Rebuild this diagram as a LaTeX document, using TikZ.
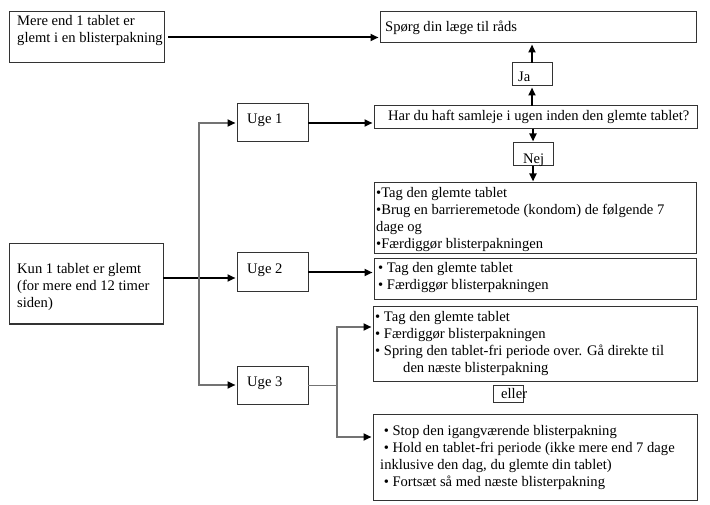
\documentclass[tikz,border=0pt]{standalone}
\usepackage{fontspec}
\setmainfont{Liberation Serif}
\usetikzlibrary{arrows.meta}
\begin{document}
\begin{tikzpicture}[x=1pt,y=-1pt,
  box/.style={draw=black!80, line width=1pt, anchor=north west, inner sep=0pt, outer sep=0pt},
  txt/.style={anchor=north west, inner sep=0pt, align=left, font=\fontsize{14.6}{17}\selectfont},
  arr/.style={line width=2pt, -{Triangle[length=8pt,width=7pt,color=black]}, shorten >=1.5pt},
  grayarr/.style={arr, draw=black!55},
  thinln/.style={line width=1pt, draw=black!55}]
\useasboundingbox[fill=white] (0,0) rectangle (710,505);

% boxes
\node[box, minimum width=155pt, minimum height=51pt] (b1) at (9,12) {};
\node[box, minimum width=316pt, minimum height=31pt] (spoerg) at (380,12) {};
\node[box, minimum width=40pt, minimum height=23pt] (ja) at (512,63) {};
\node[box, minimum width=323pt, minimum height=23pt] (q) at (374,106) {};
\node[box, minimum width=40pt, minimum height=23pt] (nej) at (513,143) {};
\node[box, minimum width=322pt, minimum height=71pt] (w1) at (374,183) {};
\node[box, minimum width=322pt, minimum height=41pt] (w2) at (374,259) {};
\node[box, minimum width=154pt, minimum height=80pt] (kun) at (9,244) {};
\node[box, minimum width=71pt, minimum height=38pt] (uge1) at (237,104) {};
\node[box, minimum width=71pt, minimum height=39pt] (uge2) at (237,253) {};
\node[box, minimum width=71pt, minimum height=38pt] (uge3) at (237,366) {};
\node[box, minimum width=324pt, minimum height=74pt] (w3a) at (373,307) {};
\node[box, minimum width=30pt, minimum height=17pt] (eller) at (493,385) {};
\node[box, minimum width=324pt, minimum height=86pt] (w3b) at (373,414) {};

% texts
\node[txt] (tb1) at (17,15) {Mere end 1 tablet er\\glemt i en blisterpakning};
\node[txt] (tsp) at (385,20.5) {Spørg din læge til råds};
\node[txt] (tja) at (518,72) {Ja};
\node[txt] (tq) at (388,110.5) {Har du haft samleje i ugen inden den glemte tablet?};
\node[txt] (tnej) at (523,153.5) {Nej};
\node[txt] (tw1) at (376,187) {•Tag den glemte tablet\\•Brug en barrieremetode (kondom) de følgende 7\\dage og\\•Færdiggør blisterpakningen};
\node[txt] (tw2) at (378,262) {• Tag den glemte tablet\\• Færdiggør blisterpakningen};
\node[txt] (tkun) at (17,263) {Kun 1 tablet er glemt\\(for mere end 12 timer\\siden)};
\node[txt] (tu1) at (247,114) {Uge 1};
\node[txt] (tu2) at (247,263.5) {Uge 2};
\node[txt] (tu3) at (247,376.5) {Uge 3};
\node[txt] (tw3a) at (375,311) {• Tag den glemte tablet\\• Færdiggør blisterpakningen\\• Spring den tablet-fri periode over. Gå direkte til\\\hspace*{28pt}den næste blisterpakning};
\node[txt] (tel) at (501,388) {eller};
\node[txt] (tw3b) at (380,425) {\hspace*{3.6pt}• Stop den igangværende blisterpakning\\\hspace*{3.6pt}• Hold en tablet-fri periode (ikke mere end 7 dage\\inklusive den dag, du glemte din tablet)\\\hspace*{3.6pt}• Fortsæt så med næste blisterpakning};

% connectors
\draw[arr] ([xshift=4pt]b1.east) -- (b1.east -| spoerg.west);
\draw[arr] (q.north -| ja.south) -- (ja.south);
\draw[arr] (ja.north) -- (ja.north |- spoerg.south);
\draw[arr] (q.south -| nej.north) -- (nej.north);
\draw[arr] (nej.south) -- (nej.south |- w1.north);
\draw[arr] (uge1.east) -- (uge1.east -| q.west);
\draw[arr] ([yshift=6pt]kun.east) -- ([yshift=6pt]kun.east -| uge2.west);
\coordinate (tk) at (199,278);
\draw[grayarr] (tk) |- (uge1.west);
\draw[grayarr] (tk) |- (uge3.west);
\draw[arr] (uge2.east) -- (uge2.east -| w2.west);
\coordinate (sp) at (337,385);
\draw[thinln] (uge3.east) -- (sp);
\draw[grayarr] (sp) |- ([yshift=17pt]w3a.west);
\draw[grayarr] (sp) |- ([yshift=20pt]w3b.west);
\end{tikzpicture}
\end{document}
